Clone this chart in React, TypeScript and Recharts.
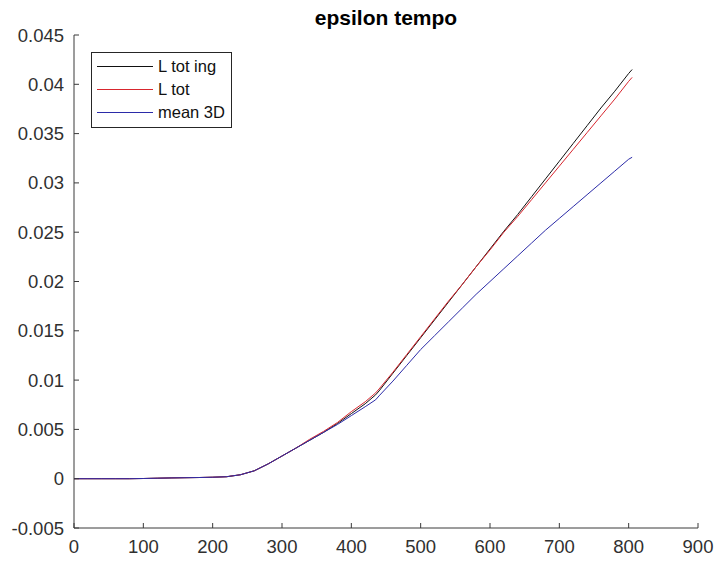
import React from "react";
import { Legend, Line, LineChart, XAxis, YAxis } from "recharts";

const title = "epsilon tempo";

const tempo = [
  0, 20, 40, 60, 80, 100, 120, 140, 160, 180, 200, 220, 240, 260, 280, 300,
  320, 340, 360, 380, 400, 420, 435, 440, 460, 480, 500, 520, 540, 560, 580,
  600, 620, 640, 660, 680, 700, 720, 740, 760, 780, 800, 805,
];

const lTotIng = [
  0, 0, 0, 0, 0, 0.00002, 0.00005, 0.00008, 0.0001, 0.00012, 0.00015, 0.0002,
  0.0004, 0.0008, 0.0015, 0.0023, 0.0031, 0.0039, 0.0047, 0.0056, 0.0066,
  0.0076, 0.0085, 0.0089, 0.0107, 0.0125, 0.0143, 0.0161, 0.0179, 0.0197,
  0.0215, 0.0233, 0.0251, 0.0268, 0.0286, 0.0304, 0.0322, 0.034, 0.0358,
  0.0376, 0.0393, 0.0411, 0.0415,
];

const lTot = [
  0, 0, 0, 0, 0, 0.00002, 0.00005, 0.00008, 0.0001, 0.00012, 0.00015, 0.0002,
  0.0004, 0.0008, 0.0015, 0.0023, 0.0031, 0.004, 0.0048, 0.0057, 0.0068,
  0.0078, 0.0087, 0.0091, 0.0108, 0.0126, 0.0144, 0.0162, 0.018, 0.0197,
  0.0215, 0.0232, 0.025, 0.0266, 0.0283, 0.03, 0.0317, 0.0334, 0.0351,
  0.0368, 0.0385, 0.0403, 0.0407,
];

const mean3D = [
  0, 0, 0, 0, 0, 0.00002, 0.00005, 0.00008, 0.0001, 0.00012, 0.00015, 0.0002,
  0.0004, 0.0008, 0.0015, 0.0023, 0.0031, 0.0039, 0.0047, 0.0055, 0.0064,
  0.0073, 0.008, 0.0084, 0.0099, 0.0115, 0.0131, 0.0145, 0.0159, 0.0173,
  0.0187, 0.02, 0.0213, 0.0226, 0.0239, 0.0252, 0.0264, 0.0276, 0.0288, 0.03,
  0.0312, 0.0324, 0.0326,
];

const xTicks = [0, 100, 200, 300, 400, 500, 600, 700, 800, 900];
const yTicks = [
  -0.005, 0, 0.005, 0.01, 0.015, 0.02, 0.025, 0.03, 0.035, 0.04, 0.045,
];

const seriesNames = ["L tot ing", "L tot", "mean 3D"];
const seriesKeys = ["ing", "tot", "mean"];
const seriesColors = ["#111111", "#d8262e", "#2b2ba8"];

const data = tempo.map((t, i) => ({
  t,
  ing: lTotIng[i],
  tot: lTot[i],
  mean: mean3D[i],
}));

const font = "'Liberation Sans', Arial, Helvetica, sans-serif";
const axisColor = "#3a3a3a";

function MatlabLegend() {
  return (
    <div
      style={{
        border: "1px solid #262626",
        background: "#fff",
        padding: "2px 6px 3px 5px",
        fontFamily: font,
        fontSize: 16.5,
        color: "#111",
      }}
    >
      {seriesNames.map((name, i) => (
        <div
          key={name}
          style={{ display: "flex", alignItems: "center", height: 23 }}
        >
          <div
            style={{
              width: 56,
              height: 0,
              borderTop: `1px solid ${seriesColors[i]}`,
              marginRight: 5,
            }}
          />
          <span>{name}</span>
        </div>
      ))}
    </div>
  );
}

export default function App() {
  return (
    <div
      style={{
        position: "absolute",
        left: 0,
        top: 0,
        width: 715,
        height: 561,
        background: "#fff",
      }}
    >
      <div
        style={{
          position: "absolute",
          left: 74,
          width: 624,
          top: 6,
          textAlign: "center",
          fontFamily: font,
          fontWeight: "bold",
          fontSize: 21,
          color: "#000",
          zIndex: 2,
        }}
      >
        {title}
      </div>
      <LineChart
        width={715}
        height={561}
        data={data}
        margin={{ top: 35, right: 17, left: 0, bottom: 0 }}
      >
        <XAxis
          dataKey="t"
          type="number"
          domain={[0, 900]}
          ticks={xTicks}
          height={33}
          stroke={axisColor}
          tickSize={-5}
          tickMargin={17}
          tick={{ fontSize: 18.5, fontFamily: font, fill: "#303030" }}
          interval={0}
        />
        <YAxis
          type="number"
          domain={[-0.005, 0.045]}
          ticks={yTicks}
          width={74}
          stroke={axisColor}
          tickSize={-5}
          tickMargin={15}
          tick={{ fontSize: 18.5, fontFamily: font, fill: "#303030" }}
          tickFormatter={(v: number) => String(Number(v.toFixed(3)))}
          interval={0}
        />
        <Legend
          layout="vertical"
          align="center"
          verticalAlign="middle"
          wrapperStyle={{ left: 91, top: 52, width: "auto" }}
          content={() => <MatlabLegend />}
        />
        {seriesKeys.map((k, i) => (
          <Line
            key={k}
            dataKey={k}
            name={seriesNames[i]}
            stroke={seriesColors[i]}
            strokeWidth={1}
            dot={false}
            type="linear"
            isAnimationActive={false}
          />
        ))}
      </LineChart>
    </div>
  );
}
